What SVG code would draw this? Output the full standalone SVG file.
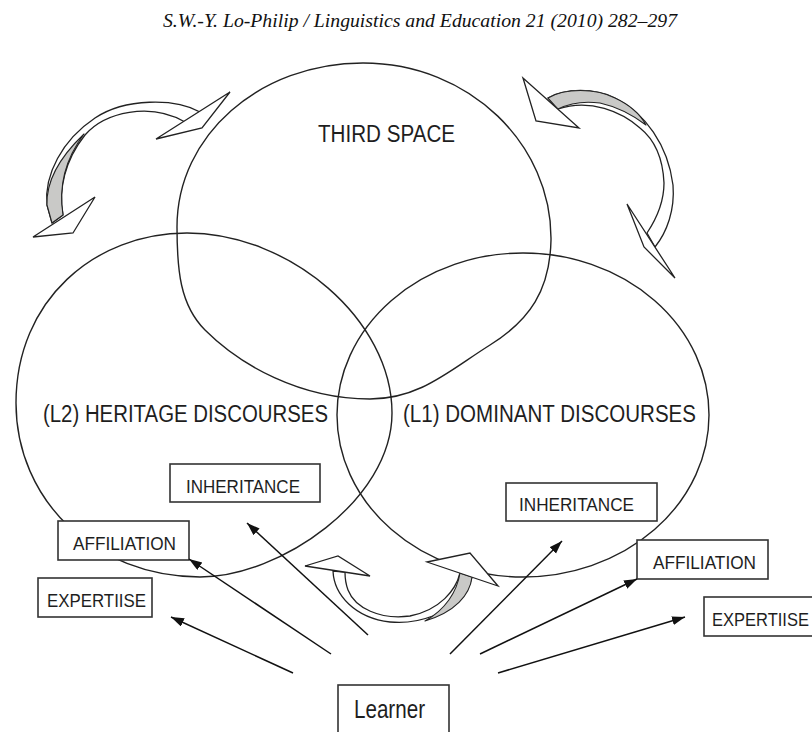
<svg xmlns="http://www.w3.org/2000/svg" width="812" height="732" viewBox="0 0 812 732">
<style>
.bg{fill:#ffffff}
.ring{fill:none;stroke:#222;stroke-width:1.4}
.box{fill:#ffffff;stroke:#333;stroke-width:1.6}
.lbl{font-family:"Liberation Sans",Arial,sans-serif;fill:#1e1e1e}
.big{font-size:23.5px}
.sm{font-size:19px}
.band{fill:#ffffff;stroke:#222;stroke-width:1.3;stroke-linejoin:round}
.gray{fill:#c9c9c7;stroke:#222;stroke-width:1.1;stroke-linejoin:round}
.head{fill:#ffffff;stroke:#222;stroke-width:1.3;stroke-linejoin:miter}
.conn{stroke:#111;stroke-width:1.5;fill:none}
.hdr{font-family:"Liberation Serif","Times New Roman",serif;font-style:italic;font-size:18px;fill:#111}
</style>
<defs>
<marker id="ah" markerUnits="userSpaceOnUse" markerWidth="14" markerHeight="10" refX="13" refY="4.5" orient="auto">
<path d="M0,0 L13,4.5 L0,9 Z" fill="#111"/>
</marker>
</defs>
<rect class="bg" x="0" y="0" width="812" height="732"/>
<text class="hdr" x="163" y="27" textLength="514" lengthAdjust="spacingAndGlyphs">S.W.-Y. Lo-Philip / Linguistics and Education 21 (2010) 282–297</text>

<g id="third-space">
<path class="ring" d="M363,63 C470,63 552,145 551,240 C550,290 530,320 490,345 C450,370 420,399 370,399 C300,399 240,365 205,330 C180,305 177,270 177,227 C177,135 260,63 363,63 Z"/>
<text class="lbl big" x="318" y="142" textLength="137" lengthAdjust="spacingAndGlyphs">THIRD SPACE</text>
</g>
<g id="heritage">
<path class="ring" d="M187,233 C290,233 392,320 392,413 C392,500 280,577 200,577 C95,577 16,500 16,403 C16,300 95,233 187,233 Z"/>
<text class="lbl big" x="43" y="422" textLength="285" lengthAdjust="spacingAndGlyphs">(L2) HERITAGE DISCOURSES</text>
</g>
<g id="dominant">
<ellipse class="ring" cx="523" cy="415" rx="186" ry="162"/>
<text class="lbl big" x="403" y="422" textLength="293" lengthAdjust="spacingAndGlyphs">(L1) DOMINANT DISCOURSES</text>
</g>

<g id="cycle-arrows">
<g id="cycle-top-left">
<path class="band" d="M200,112 C175,98 125,98 95,118 C62,140 44,175 47,205 L52,223 L63,215 C58,190 65,160 85,135 C105,112 150,102 185,122 Z"/>
<path class="gray" d="M84,134 C62,155 46,180 47,205 L52,223 L63,215 C59,190 63,162 84,134 Z"/>
<polygon class="head" points="230,92 156,139 202,128"/>
<polygon class="head" points="95,197 33,237 73,233"/>
</g>
<g id="cycle-top-right">
<path class="band" d="M548,98 C565,88 595,88 615,98 C645,113 668,145 673,185 C675,210 667,232 655,247 L647,233 C657,218 664,200 664,183 C663,160 655,140 640,128 C622,112 590,98 558,109 Z"/>
<path class="gray" d="M548,98 C565,88 595,88 615,98 C628,104 640,114 646,125 C634,116 618,107 600,103 C585,101 570,103 558,109 Z"/>
<polygon class="head" points="523,78 536,121 579,128"/>
<polygon class="head" points="627,204 675,278 644,247"/>
</g>
<g id="cycle-bottom">
<path class="band" d="M333,571 C334,595 355,618 390,622 C420,625 450,612 462,595 C468,588 471,582 472,577 L460,573 C456,590 440,610 410,616 C380,620 355,608 348,590 C345,582 345,576 345,572 Z"/>
<path class="gray" d="M460,573 L472,577 C470,595 455,612 425,621 C445,610 457,592 460,573 Z"/>
<polygon class="head" points="305,566 338,556 370,576"/>
<polygon class="head" points="427,562 470,553 498,586"/>
</g>
</g>

<g id="inheritance-l2">
<rect class="box" x="170" y="464" width="150" height="38"/>
<text class="lbl sm" x="186" y="493" textLength="114" lengthAdjust="spacingAndGlyphs">INHERITANCE</text>
</g>
<g id="affiliation-l2">
<rect class="box" x="58" y="521" width="131" height="39"/>
<text class="lbl sm" x="73" y="550" textLength="103" lengthAdjust="spacingAndGlyphs">AFFILIATION</text>
</g>
<g id="expertise-l2">
<rect class="box" x="38" y="578" width="114" height="39"/>
<text class="lbl sm" x="47" y="607" textLength="99" lengthAdjust="spacingAndGlyphs">EXPERTIISE</text>
</g>
<g id="inheritance-l1">
<rect class="box" x="506" y="483" width="151" height="38"/>
<text class="lbl sm" x="519" y="511" textLength="115" lengthAdjust="spacingAndGlyphs">INHERITANCE</text>
</g>
<g id="affiliation-l1">
<rect class="box" x="637" y="540" width="131" height="39"/>
<text class="lbl sm" x="653" y="569" textLength="103" lengthAdjust="spacingAndGlyphs">AFFILIATION</text>
</g>
<g id="expertise-l1">
<rect class="box" x="704" y="597" width="130" height="39"/>
<text class="lbl sm" x="712" y="626" textLength="97" lengthAdjust="spacingAndGlyphs">EXPERTIISE</text>
</g>
<g id="learner">
<rect class="box" x="338" y="685" width="111" height="60"/>
<text class="lbl" style="font-size:26px" x="354" y="718" textLength="71" lengthAdjust="spacingAndGlyphs">Learner</text>
</g>

<g id="connectors">
<line class="conn" x1="368" y1="635" x2="247" y2="523" marker-end="url(#ah)"/>
<line class="conn" x1="331" y1="654" x2="189" y2="559" marker-end="url(#ah)"/>
<line class="conn" x1="293" y1="673" x2="171" y2="617" marker-end="url(#ah)"/>
<line class="conn" x1="450" y1="654" x2="562" y2="541" marker-end="url(#ah)"/>
<line class="conn" x1="480" y1="654" x2="637" y2="579" marker-end="url(#ah)"/>
<line class="conn" x1="498" y1="673" x2="685" y2="617" marker-end="url(#ah)"/>
</g>
</svg>
